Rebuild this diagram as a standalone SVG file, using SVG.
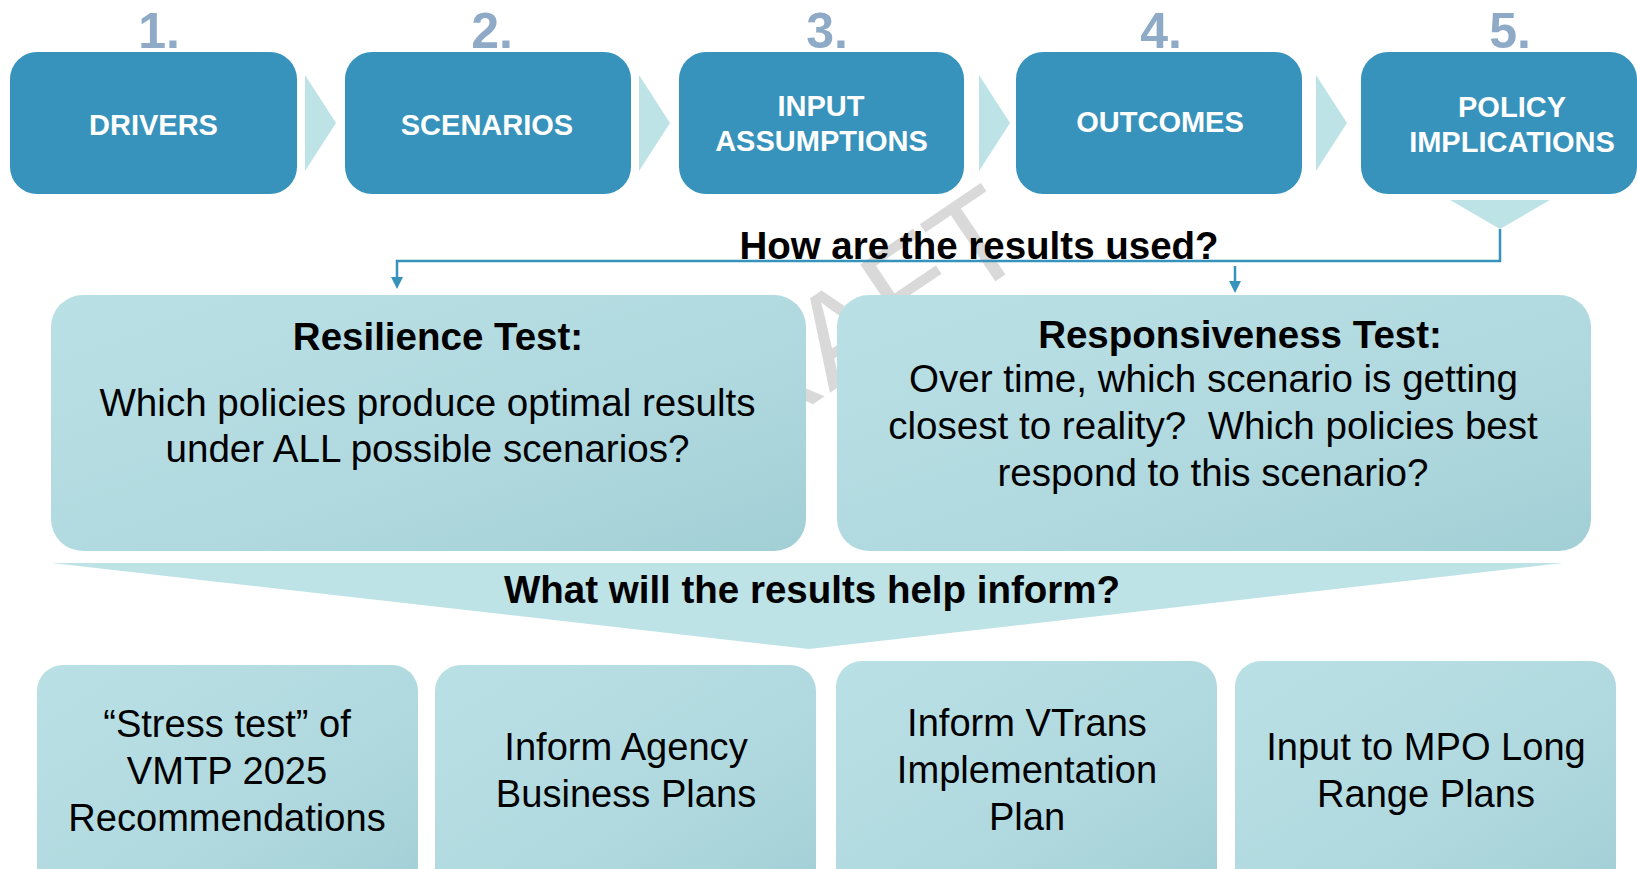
<svg xmlns="http://www.w3.org/2000/svg" width="1637" height="869" viewBox="0 0 1637 869">
  <defs>
    <linearGradient id="soft" x1="0" y1="0" x2="1" y2="1">
      <stop offset="0" stop-color="#b9e0e5"/>
      <stop offset="0.6" stop-color="#b0d9df"/>
      <stop offset="1" stop-color="#a1cfd5"/>
    </linearGradient>
    <style>
      .step { fill: #3793bb; }
      .step-label { font-family: "Liberation Sans", Arial, sans-serif; font-weight: bold; font-size: 29px; fill: #ffffff; text-anchor: middle; }
      .num { font-family: "Liberation Sans", Arial, sans-serif; font-weight: bold; font-size: 50px; fill: #8eaac6; text-anchor: middle; }
      .chev { fill: #bde3e6; }
      .card { fill: url(#soft); }
      .head { font-family: "Liberation Sans", Arial, sans-serif; font-weight: bold; font-size: 38.5px; fill: #000000; text-anchor: middle; }
      .body { font-family: "Liberation Sans", Arial, sans-serif; font-size: 38.6px; fill: #000000; text-anchor: middle; white-space: pre; }
      .small { font-family: "Liberation Sans", Arial, sans-serif; font-size: 38.1px; fill: #000000; text-anchor: middle; }
      .wire { fill: none; stroke: #3793bb; stroke-width: 2.5; }
      .tip { fill: #3793bb; }
      .mark { font-family: "Liberation Sans", Arial, sans-serif; font-size: 130px; fill: #d9d9d9; }
    </style>
  </defs>

  <rect x="0" y="0" width="1637" height="869" fill="#ffffff"/>

  <!-- watermark, mostly covered by the cards -->
  <text class="mark" x="674" y="498" transform="rotate(-34 674 498)">DRAFT</text>

  <!-- step numbers -->
  <g id="numbers">
    <text class="num" x="159" y="48">1.</text>
    <text class="num" x="492" y="48">2.</text>
    <text class="num" x="827" y="48">3.</text>
    <text class="num" x="1161" y="48">4.</text>
    <text class="num" x="1510" y="48">5.</text>
  </g>

  <!-- chevrons between steps -->
  <g id="chevrons">
    <polygon class="chev" points="305,75 336,123 305,171"/>
    <polygon class="chev" points="639,75 670,123 639,171"/>
    <polygon class="chev" points="979,75 1010,123 979,171"/>
    <polygon class="chev" points="1316,75 1347,123 1316,171"/>
    <polygon class="chev" points="1450,200 1550,200 1500,229"/>
  </g>

  <g id="step-drivers">
    <rect class="step" x="10" y="52" width="287" height="142" rx="27"/>
    <text class="step-label" x="153.5" y="134.5">DRIVERS</text>
  </g>
  <g id="step-scenarios">
    <rect class="step" x="345" y="52" width="286" height="142" rx="27"/>
    <text class="step-label" x="487" y="134.5">SCENARIOS</text>
  </g>
  <g id="step-inputs">
    <rect class="step" x="679" y="52" width="285" height="142" rx="27"/>
    <text class="step-label" x="821" y="116">INPUT</text>
    <text class="step-label" x="821.5" y="150.5">ASSUMPTIONS</text>
  </g>
  <g id="step-outcomes">
    <rect class="step" x="1016" y="52" width="286" height="142" rx="27"/>
    <text class="step-label" x="1160" y="131.5">OUTCOMES</text>
  </g>
  <g id="step-policy">
    <rect class="step" x="1361" y="52" width="276" height="142" rx="27"/>
    <text class="step-label" x="1512" y="117">POLICY</text>
    <text class="step-label" x="1512" y="151.5">IMPLICATIONS</text>
  </g>

  <!-- connectors -->
  <g id="connectors">
    <polyline class="wire" points="1500,229 1500,261 397,261 397,280"/>
    <path class="tip" d="M391,277 L403,277 L397,289 Z"/>
    <line class="wire" x1="1235" y1="266" x2="1235" y2="284"/>
    <path class="tip" d="M1229,281 L1241,281 L1235,293 Z"/>
  </g>

  <text class="head" x="979" y="259">How are the results used?</text>

  <g id="resilience">
    <rect class="card" x="51" y="295" width="755" height="256" rx="32"/>
    <text class="head" x="438" y="350">Resilience Test:</text>
    <text class="body" x="427.5" y="415.5">Which policies produce optimal results</text>
    <text class="body" x="427.5" y="461.5">under ALL possible scenarios?</text>
  </g>

  <g id="responsiveness">
    <rect class="card" x="837" y="295" width="754" height="256" rx="32"/>
    <text class="head" x="1240" y="348">Responsiveness Test:</text>
    <text class="body" x="1213.5" y="391.5">Over time, which scenario is getting</text>
    <text class="body" x="1213" y="438.5">closest to reality?  Which policies best</text>
    <text class="body" x="1213" y="485.5">respond to this scenario?</text>
  </g>

  <g id="funnel">
    <polygon class="chev" points="52,563 1563,563 809,649"/>
    <text class="head" x="812" y="602.5">What will the results help inform?</text>
  </g>

  <g id="stress-test">
    <rect class="card" x="37" y="665" width="381" height="240" rx="26"/>
    <text class="small" x="227" y="737">“Stress test” of</text>
    <text class="small" x="227" y="784">VMTP 2025</text>
    <text class="small" x="227" y="831">Recommendations</text>
  </g>
  <g id="business-plans">
    <rect class="card" x="435" y="665" width="381" height="240" rx="26"/>
    <text class="small" x="626" y="760">Inform Agency</text>
    <text class="small" x="626" y="807">Business Plans</text>
  </g>
  <g id="vtrans">
    <rect class="card" x="836" y="661" width="381" height="240" rx="26"/>
    <text class="small" x="1027" y="736">Inform VTrans</text>
    <text class="small" x="1027" y="783">Implementation</text>
    <text class="small" x="1027" y="830">Plan</text>
  </g>
  <g id="mpo">
    <rect class="card" x="1235" y="661" width="381" height="240" rx="26"/>
    <text class="small" x="1426" y="760">Input to MPO Long</text>
    <text class="small" x="1426" y="807">Range Plans</text>
  </g>
</svg>
